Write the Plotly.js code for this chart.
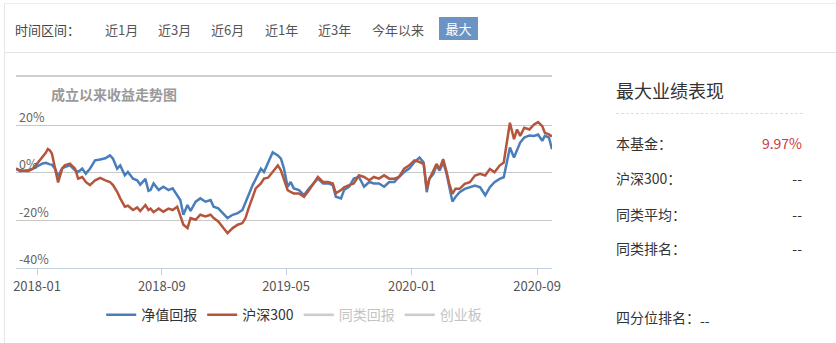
<!DOCTYPE html>
<html>
<head>
<meta charset="utf-8">
<script src="https://cdn.plot.ly/plotly-3.0.1.min.js"></script>
<style>
  html, body { margin:0; padding:0; background:#fff; }
  body { width:836px; height:343px; overflow:hidden; position:relative;
         font-family:"Noto Sans CJK SC", "Noto Sans", sans-serif; }
  .abs { position:absolute; white-space:nowrap; }
  #frame { position:absolute; left:4px; top:3px; width:832px; height:340px;
           border-left:1px solid #e6e6e6; border-top:1px solid #eeeeee; box-sizing:border-box; }
  #divider { position:absolute; left:4px; top:52px; width:832px; border-top:1px solid #e3e3e3; }
  .hd { font-size:13px; color:#555; line-height:20px; top:20px; }
  #btn { position:absolute; left:439px; top:17px; width:39px; height:23px; background:#6b93c3;
         color:#fff; font-size:13px; line-height:23px; text-align:center; }
  #chart { position:absolute; left:0; top:0; width:836px; height:343px; }
  .pt { font-size:14px; color:#333; line-height:20px; }
  .pv { font-size:14px; color:#333; line-height:20px; text-align:right; width:120px; left:682px; }
</style>
</head>
<body>
<div id="frame"></div>
<div id="divider"></div>

<span class="abs hd" style="left:15px;color:#444;">时间区间：</span>
<span class="abs hd" style="left:105px;">近1月</span>
<span class="abs hd" style="left:158px;">近3月</span>
<span class="abs hd" style="left:211px;">近6月</span>
<span class="abs hd" style="left:265px;">近1年</span>
<span class="abs hd" style="left:318px;">近3年</span>
<span class="abs hd" style="left:372px;">今年以来</span>
<div id="btn">最大</div>

<div id="chart"></div>

<span class="abs" style="left:616px;top:77px;font-size:18px;color:#333;line-height:26px;">最大业绩表现</span>
<div class="abs" style="left:616px;top:113px;width:187px;border-top:1px dashed #dddddd;"></div>
<span class="abs pt" style="left:616px;top:133px;">本基金：</span>
<span class="abs pv" style="top:133px;color:#cc3b3b;">9.97%</span>
<span class="abs pt" style="left:616px;top:168px;">沪深300：</span>
<span class="abs pv" style="top:168px;">--</span>
<span class="abs pt" style="left:616px;top:204px;">同类平均：</span>
<span class="abs pv" style="top:204px;">--</span>
<span class="abs pt" style="left:616px;top:238px;">同类排名：</span>
<span class="abs pv" style="top:238px;">--</span>
<span class="abs pt" style="left:616px;top:307px;">四分位排名：<span style="position:relative;top:3px;">--</span></span>

<script>
const dates = [
 '2017-11-21','2017-11-29','2017-12-07','2017-12-14','2017-12-24','2018-01-01','2018-01-07','2018-01-12','2018-01-18','2018-01-22',
 '2018-01-26','2018-01-30','2018-02-05','2018-02-11','2018-02-19','2018-02-24','2018-03-06','2018-03-16','2018-03-22','2018-03-30',
 '2018-04-06','2018-04-14','2018-04-24','2018-05-04','2018-05-14','2018-05-23','2018-05-29','2018-06-06','2018-06-12','2018-06-21',
 '2018-06-27','2018-07-07','2018-07-15','2018-07-21','2018-07-31','2018-08-06','2018-08-10','2018-08-16','2018-08-26','2018-09-04',
 '2018-09-14','2018-09-22','2018-10-01','2018-10-07','2018-10-13','2018-10-21','2018-10-27','2018-11-06','2018-11-15','2018-11-25',
 '2018-12-05','2018-12-11','2018-12-20','2018-12-30','2019-01-07','2019-01-17','2019-01-27','2019-02-05','2019-02-11','2019-02-17',
 '2019-02-25','2019-03-03','2019-03-13','2019-03-19','2019-03-27','2019-04-05','2019-04-15','2019-04-21','2019-04-27','2019-05-04',
 '2019-05-10','2019-05-16','2019-05-26','2019-06-05','2019-06-15','2019-06-24','2019-07-02','2019-07-12','2019-07-22','2019-07-31',
 '2019-08-06','2019-08-16','2019-08-22','2019-09-01','2019-09-10','2019-09-20','2019-09-30','2019-10-10','2019-10-19','2019-10-29',
 '2019-11-08','2019-11-18','2019-11-28','2019-12-07','2019-12-17','2019-12-27','2020-01-06','2020-01-16','2020-01-24','2020-01-30',
 '2020-02-04','2020-02-12','2020-02-18','2020-02-24','2020-03-02','2020-03-08','2020-03-14','2020-03-20','2020-03-26','2020-04-03',
 '2020-04-13','2020-04-23','2020-05-03','2020-05-13','2020-05-23','2020-06-01','2020-06-10','2020-06-20','2020-06-28','2020-07-04',
 '2020-07-10','2020-07-18','2020-07-24','2020-07-30','2020-08-07','2020-08-17','2020-08-26','2020-09-03','2020-09-11','2020-09-16',
 '2020-09-24','2020-09-30'
];

// 净值回报 (%)
const fundReturn = [
 1.8, 0.7, 0.9, 1.1, 1.8, 2.8, 3.5, 4.0, 4.3, 3.8,
 3.6, 3.5, 1.8, -1.5, 2.0, 2.5, 3.2, 1.1, 0.4, 1.8,
 -0.3, 1.8, 5.3, 5.7, 6.2, 7.4, 6.0, 1.8, 3.2, -1.0,
 0.4, -2.4, -3.1, -5.0, -2.5, -7.5, -7.2, -4.4, -7.2, -5.8,
 -7.2, -6.5, -9.3, -11.4, -17.6, -13.5, -16.0, -12.1, -10.7, -12.1,
 -11.4, -14.2, -14.9, -17.0, -19.0, -17.6, -16.9, -15.6, -12.1, -9.3,
 -5.1, -2.4, 1.8, 0.4, 4.6, 8.7, 7.4, 6.0, 1.8, -5.8,
 -3.8, -6.5, -7.2, -9.3, -6.5, -4.4, -2.4, -4.4, -4.4, -5.1,
 -10.0, -10.7, -7.2, -5.8, -2.4, -1.7, -5.8, -3.8, -4.4, -4.4,
 -5.8, -3.8, -3.8, -1.7, 0.4, 1.8, 4.6, 6.5, 4.4, -8.1,
 -2.5, -0.4, 3.1, 1.0, 4.4, 0.3, -6.7, -12.0, -10.1, -8.1,
 -6.7, -6.0, -5.3, -6.0, -9.4, -6.0, -3.9, -2.5, -1.8, 4.4,
 10.7, 6.5, 10.0, 12.8, 14.9, 15.8, 15.6, 16.2, 13.5, 15.6,
 14.9, 9.97
];

// 沪深300 (%)
const hs300Return = [
 1.8, 1.1, 0.9, 0.7, 1.8, 4.0, 5.3, 7.0, 8.5, 10.1,
 9.5, 8.1, 1.8, -4.0, 1.8, 3.2, 3.9, 1.8, -2.4, -1.7,
 -3.8, -5.1, -3.1, -2.1, -3.1, -3.8, -5.1, -7.9, -10.7, -14.2,
 -13.8, -15.6, -14.5, -16.0, -13.5, -15.6, -15.0, -16.5, -15.0, -16.3,
 -15.0, -15.6, -14.2, -17.6, -21.8, -23.2, -19.0, -19.7, -17.6, -18.3,
 -17.6, -19.0, -20.4, -23.2, -25.3, -23.2, -21.8, -21.1, -19.0, -14.9,
 -10.0, -6.5, -4.4, -2.4, -2.0, 0.4, 3.2, 1.1, -2.4, -7.2,
 -8.0, -8.6, -8.6, -10.0, -7.2, -4.4, -1.7, -3.8, -3.8, -4.4,
 -8.6, -7.2, -6.0, -5.1, -4.4, -1.0, -1.7, -3.1, -1.7, -2.4,
 -1.0, -2.4, -2.4, -1.7, 1.8, 3.2, 5.3, 4.6, 3.8, -6.7,
 -2.5, 1.0, 3.8, 1.7, 5.8, 1.0, -4.6, -8.8, -6.7, -6.7,
 -4.6, -3.9, -1.1, -0.4, -1.1, 1.7, 0.3, 3.1, 4.4, 12.8,
 21.1, 14.2, 18.3, 15.6, 19.0, 18.3, 20.4, 21.4, 19.7, 16.9,
 16.2, 15.3
];

const seriesNames = ['净值回报', '沪深300', '同类回报', '创业板'];
const yTicks = [-40, -20, 0, 20];
const xTickDates = ['2018-01-01', '2018-09-01', '2019-05-01', '2020-01-01', '2020-09-01'];
const xTickLabels = ['2018-01', '2018-09', '2019-05', '2020-01', '2020-09'];
const chartTitle = '成立以来收益走势图';

const traces = [
  { x: dates, y: fundReturn, name: seriesNames[0], type: 'scatter', mode: 'lines',
    line: { color: '#4a7ebb', width: 2.5 } },
  { x: dates, y: hs300Return, name: seriesNames[1], type: 'scatter', mode: 'lines',
    line: { color: '#b5563c', width: 2.5 } },
  { x: [dates[0]], y: [null], name: '<span style="color:#888">' + seriesNames[2] + '</span>', type: 'scatter', mode: 'lines',
    visible: 'legendonly', line: { color: '#999', width: 2.5 } },
  { x: [dates[0]], y: [null], name: '<span style="color:#888">' + seriesNames[3] + '</span>', type: 'scatter', mode: 'lines',
    visible: 'legendonly', line: { color: '#999', width: 2.5 } }
];

const layout = {
  width: 836, height: 343,
  margin: { l: 16, r: 284, t: 76, b: 72, pad: 0 },
  paper_bgcolor: 'rgba(0,0,0,0)', plot_bgcolor: 'rgba(0,0,0,0)',
  font: { family: '"Noto Sans CJK SC", "Noto Sans", sans-serif', color: '#555' },
  showlegend: true,
  legend: { orientation: 'h', x: 0.519, xanchor: 'center', y: -0.246, yanchor: 'middle',
            font: { size: 14, color: '#333' }, bgcolor: 'rgba(0,0,0,0)', itemclick: false },
  xaxis: { type: 'date', range: [dates[0], dates[dates.length - 1]],
           tickmode: 'array', tickvals: xTickDates, ticktext: xTickLabels,
           ticklabeloverflow: 'allow',
           showgrid: false, zeroline: false, showline: true, linecolor: '#c3d2e2', linewidth: 1,
           ticks: 'outside', ticklen: 6, tickcolor: '#c3d2e2',
           tickfont: { size: 13, color: '#555' }, fixedrange: true },
  yaxis: { range: [-40, 40.8], tickvals: yTicks, ticktext: yTicks.map(v => v + '%'),
           showgrid: true, gridcolor: '#c8c8c8', gridwidth: 1, zeroline: false, showline: false,
           ticks: '', ticklabelposition: 'inside', ticklabelshift: -8, ticklabeloverflow: 'allow',
           tickfont: { size: 12.5, color: '#666' }, fixedrange: true },
  shapes: [{ type: 'line', xref: 'paper', yref: 'paper', x0: 0, x1: 1, y0: 1, y1: 1,
             line: { color: '#cfcfcf', width: 2 } }],
  annotations: [{ text: chartTitle, xref: 'paper', yref: 'paper', x: 0.062, y: 0.905,
                  xanchor: 'left', yanchor: 'middle', showarrow: false,
                  font: { size: 14, color: '#999', weight: 'bold' } }]
};

Plotly.newPlot('chart', traces, layout, { staticPlot: true, displayModeBar: false });
</script>
</body>
</html>
